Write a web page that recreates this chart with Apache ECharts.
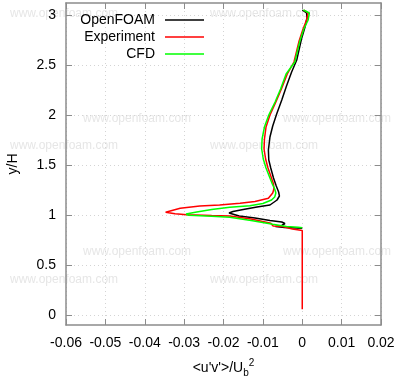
<!DOCTYPE html>
<html><head><meta charset="utf-8">
<script src="https://cdn.jsdelivr.net/npm/echarts@6/dist/echarts.min.js"></script>
<style>html,body{margin:0;padding:0;background:#fff}#c{width:400px;height:380px}</style>
</head><body><div id="c"></div>
<script>
const seriesNames = ['OpenFOAM', 'Experiment', 'CFD'];
const seriesColors = ['#000000', '#ff0000', '#00ff00'];
const yTickValues = [0, 0.5, 1, 1.5, 2, 2.5, 3];
const xTitle = "<u'v'>/U";
const yTitle = 'y/H';

const openFoam = [
  [0.0000, 3.05], [0.0011, 3.02], [0.0012, 2.97], [0.0007, 2.88], [-0.0002, 2.76],
  [-0.0014, 2.55], [-0.0027, 2.43], [-0.0040, 2.29], [-0.0052, 2.15], [-0.0065, 2.01],
  [-0.0075, 1.89], [-0.0082, 1.78], [-0.0086, 1.65], [-0.0085, 1.55], [-0.0080, 1.47],
  [-0.0073, 1.37], [-0.0066, 1.29], [-0.0060, 1.23], [-0.0058, 1.19], [-0.0064, 1.15],
  [-0.0082, 1.10], [-0.0115, 1.08], [-0.0150, 1.055], [-0.0176, 1.035], [-0.0186, 1.02],
  [-0.0182, 1.005], [-0.0160, 0.99], [-0.0120, 0.97], [-0.0082, 0.945], [-0.0052, 0.93],
  [-0.0044, 0.915], [-0.0052, 0.895], [-0.0068, 0.885], [-0.0045, 0.875], [-0.0015, 0.870],
  [0.0000, 0.867]
];
const experiment = [
  [0.0004, 3.05], [0.0015, 3.02], [0.0011, 2.95], [0.0002, 2.86], [-0.0008, 2.74],
  [-0.0021, 2.53], [-0.0038, 2.41], [-0.0053, 2.26], [-0.0067, 2.13], [-0.0082, 2.00],
  [-0.0092, 1.88], [-0.0096, 1.76], [-0.0097, 1.66], [-0.0093, 1.56], [-0.0087, 1.47],
  [-0.0079, 1.38], [-0.0073, 1.31], [-0.0072, 1.26], [-0.0075, 1.22], [-0.0086, 1.167],
  [-0.0120, 1.135], [-0.0158, 1.118], [-0.0210, 1.10], [-0.0260, 1.09], [-0.0310, 1.067],
  [-0.0347, 1.027], [-0.0323, 1.012], [-0.0293, 1.003], [-0.0230, 0.995], [-0.0184, 0.99],
  [-0.0130, 0.96], [-0.0080, 0.918], [-0.0074, 0.89], [-0.0050, 0.885], [-0.0025, 0.86],
  [0.0000, 0.845], [0.0000, 0.057]
];
const cfd = [
  [0.0003, 3.05], [0.0018, 3.02], [0.0015, 2.95], [0.0004, 2.86], [-0.0006, 2.74],
  [-0.0019, 2.53], [-0.0041, 2.41], [-0.0055, 2.26], [-0.0069, 2.13], [-0.0085, 2.00],
  [-0.0096, 1.88], [-0.0102, 1.76], [-0.0103, 1.66], [-0.0099, 1.56], [-0.0092, 1.47],
  [-0.0083, 1.38], [-0.0076, 1.31], [-0.0070, 1.26], [-0.0067, 1.22], [-0.0070, 1.18],
  [-0.0078, 1.15], [-0.0100, 1.115], [-0.0133, 1.093], [-0.0184, 1.077], [-0.0230, 1.055],
  [-0.0268, 1.03], [-0.0295, 1.01], [-0.0288, 0.998], [-0.0230, 0.988], [-0.0184, 0.978],
  [-0.0130, 0.945], [-0.0075, 0.907], [-0.0070, 0.89], [-0.0040, 0.885], [-0.0010, 0.877],
  [0.0000, 0.873]
];
const seriesData = [openFoam, experiment, cfd];

const FONT = '"Liberation Sans", Arial, sans-serif';
const frameColor = '#8c8c8c';
const gridColor = '#d4d4d4';

const wmPos = [[10,15],[210,15],[83,120],[283,120],[10,147],[210,147],[83,253],[283,253],[10,281],[210,281]];
const graphics = wmPos.map(p => ({
  type: 'text', left: p[0], top: p[1] - 7, z: -10, silent: true,
  style: { text: 'www.openfoam.com', fill: '#e6e6e6', font: '12px ' + FONT }
}));

const xLabelFmt = v => {
  const r = Math.round(v * 100) / 100;
  return r === 0 ? '0' : r.toFixed(2);
};

const chart = echarts.init(document.getElementById('c'), null, { renderer: 'canvas' });
chart.setOption({
  animation: false,
  backgroundColor: '#ffffff',
  graphic: graphics,
  grid: { left: 66, right: 19, top: 3, bottom: 55, containLabel: false, outerBoundsMode: 'none' },
  legend: {
    data: seriesNames.map(n => ({ name: n, icon: 'rect' })),
    orient: 'vertical', align: 'right', right: 196, top: 13, padding: 0,
    itemWidth: 39, itemHeight: 1.6, itemGap: 3,
    textStyle: { fontFamily: FONT, fontSize: 14, color: '#000', padding: [0, 5, 0, 0] }
  },
  xAxis: [{
    type: 'value', min: -0.06, max: 0.02, interval: 0.01, position: 'bottom',
    name: "{m|" + xTitle + "}{b|b}{s|2}", nameLocation: 'middle', nameGap: 33,
    nameTextStyle: {
      fontFamily: FONT, fontSize: 14, color: '#000',
      rich: {
        m: { fontFamily: FONT, fontSize: 14, lineHeight: 20, verticalAlign: 'middle', color: '#000' },
        b: { fontFamily: FONT, fontSize: 10, lineHeight: 10, verticalAlign: 'bottom', color: '#000' },
        s: { fontFamily: FONT, fontSize: 10, lineHeight: 10, verticalAlign: 'top', color: '#000' }
      }
    },
    axisLine: { show: true, onZero: false, lineStyle: { color: frameColor, width: 1.5 } },
    axisTick: { show: true, inside: true, length: 6, lineStyle: { color: frameColor, width: 1 } },
    axisLabel: { show: true, margin: 11, fontFamily: FONT, fontSize: 14, color: '#000', formatter: xLabelFmt },
    splitLine: { show: true, lineStyle: { color: gridColor, type: [1, 3], width: 1 } }
  }, {
    type: 'value', min: -0.06, max: 0.02, interval: 0.01, position: 'top',
    axisLine: { show: true, onZero: false, lineStyle: { color: frameColor, width: 1.5 } },
    axisTick: { show: true, inside: true, length: 6, lineStyle: { color: frameColor, width: 1 } },
    axisLabel: { show: false }, splitLine: { show: false }
  }],
  yAxis: [{
    type: 'value', min: -0.1, max: 3.12, position: 'left',
    name: yTitle, nameLocation: 'middle', nameGap: 46,
    nameTextStyle: { fontFamily: FONT, fontSize: 14, color: '#000' },
    axisLine: { show: true, onZero: false, lineStyle: { color: frameColor, width: 1.5 } },
    axisTick: { show: true, inside: true, length: 6, customValues: yTickValues, lineStyle: { color: frameColor, width: 1 } },
    axisLabel: { show: true, margin: 10, fontFamily: FONT, fontSize: 14, color: '#000', customValues: yTickValues },
    splitLine: { show: true, lineStyle: { color: gridColor, type: [1, 3], width: 1 } }
  }, {
    type: 'value', min: -0.1, max: 3.12, position: 'right',
    axisLine: { show: true, onZero: false, lineStyle: { color: frameColor, width: 1.5 } },
    axisTick: { show: true, inside: true, length: 6, customValues: yTickValues, lineStyle: { color: frameColor, width: 1 } },
    axisLabel: { show: false, customValues: yTickValues }, splitLine: { show: false }
  }],
  series: seriesNames.map((n, i) => ({
    name: n, type: 'line', xAxisIndex: 0, yAxisIndex: 0,
    data: seriesData[i], symbol: 'none', showSymbol: false,
    lineStyle: { color: seriesColors[i], width: 1.5 },
    itemStyle: { color: seriesColors[i] },
    z: 3 + i
  }))
});
</script>
</body></html>
